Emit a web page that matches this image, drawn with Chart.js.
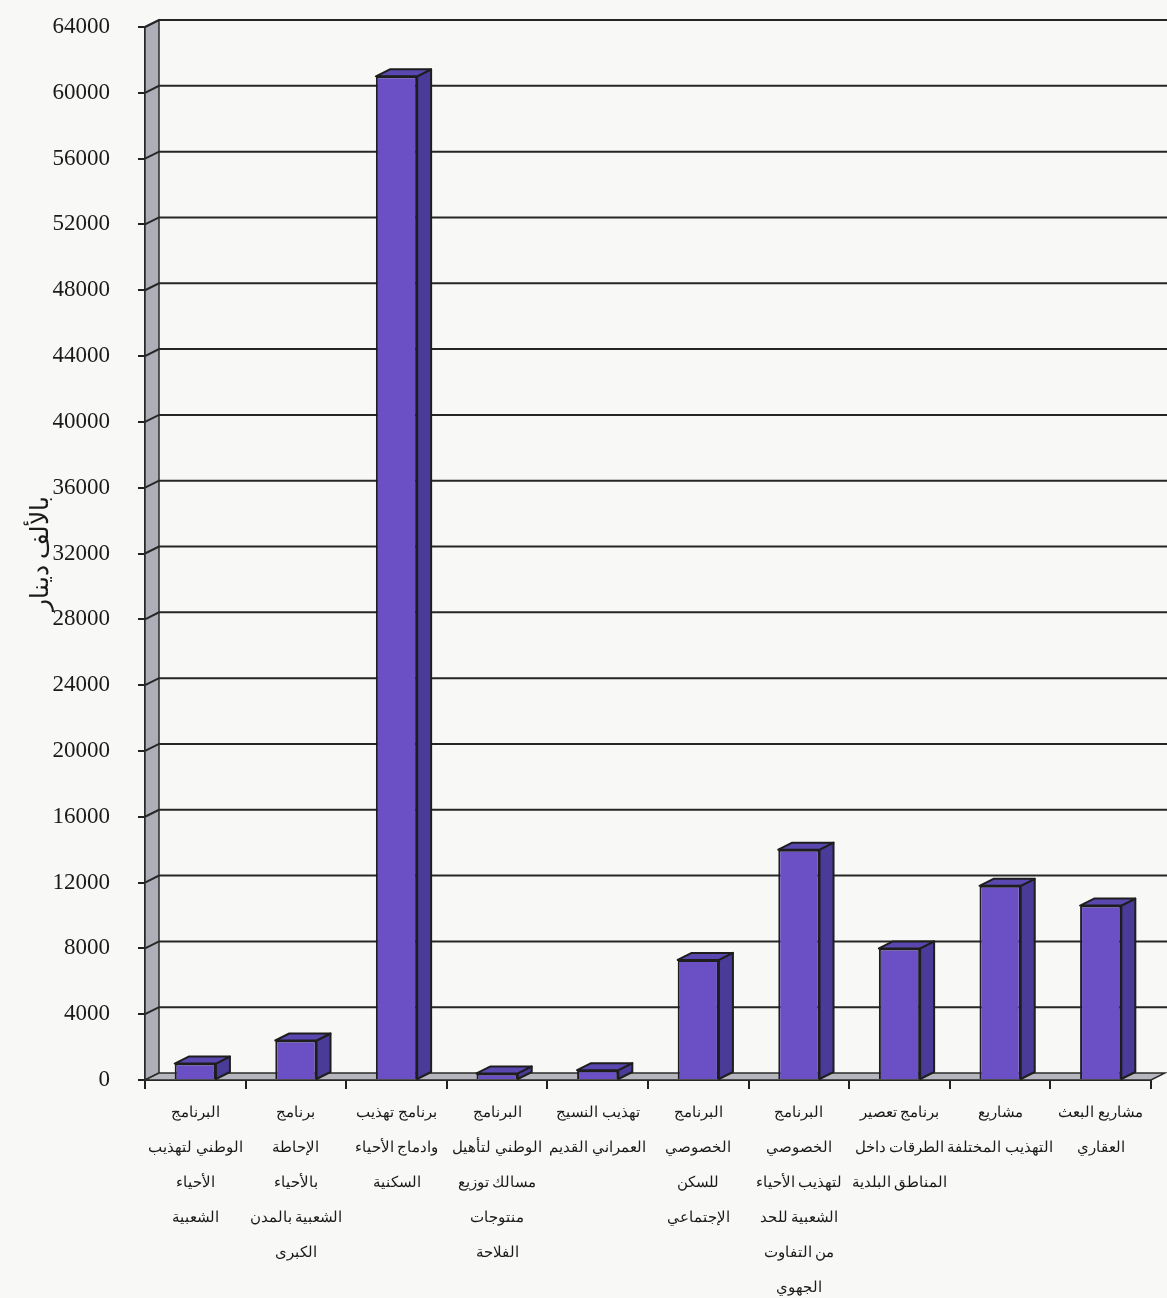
<!DOCTYPE html>
<html>
<head>
<meta charset="utf-8">
<title>chart</title>
<script src="https://cdn.jsdelivr.net/npm/chart.js@4/dist/chart.umd.min.js"></script>
<style>
  html, body { margin: 0; padding: 0; background: #f8f8f7; }
  #wrap { width: 1167px; height: 1298px; position: relative; }
</style>
</head>
<body>
<div id="wrap"><canvas id="chart"></canvas></div>
<script>
// ---- data ----
const categories = [
  ["البرنامج", "الوطني لتهذيب", "الأحياء", "الشعبية"],
  ["برنامج", "الإحاطة", "بالأحياء", "الشعبية بالمدن", "الكبرى"],
  ["برنامج تهذيب", "وادماج الأحياء", "السكنية"],
  ["البرنامج", "الوطني لتأهيل", "مسالك توزيع", "منتوجات", "الفلاحة"],
  ["تهذيب النسيج", "العمراني القديم"],
  ["البرنامج", "الخصوصي", "للسكن", "الإجتماعي"],
  ["البرنامج", "الخصوصي", "لتهذيب الأحياء", "الشعبية للحد", "من التفاوت", "الجهوي"],
  ["برنامج تعصير", "الطرقات داخل", "المناطق البلدية"],
  ["مشاريع", "التهذيب المختلفة"],
  ["مشاريع البعث", "العقاري"]
];
const values = [1000, 2400, 61000, 400, 600, 7300, 14000, 8000, 11800, 10600];
const yMin = 0;
const yMax = 64000;
const yStep = 4000;
const yTitle = "بالألف دينار";

// 3D depth of the box (px)
const DX = 14;
const DY = 7;

const box3d = {
  id: "box3d",
  beforeDatasetsDraw(chart) {
    const ctx = chart.ctx;
    const a = chart.chartArea;
    const ys = chart.scales.y;
    ctx.save();

    // left wall
    ctx.beginPath();
    ctx.moveTo(a.left, a.bottom);
    ctx.lineTo(a.left, a.top);
    ctx.lineTo(a.left + DX, a.top - DY);
    ctx.lineTo(a.left + DX, a.bottom - DY);
    ctx.closePath();
    ctx.fillStyle = "#aeaeb8";
    ctx.fill();
    ctx.strokeStyle = "#2b2b2b";
    ctx.lineWidth = 1.5;
    ctx.stroke();

    // floor
    ctx.beginPath();
    ctx.moveTo(a.left, a.bottom);
    ctx.lineTo(a.right, a.bottom);
    ctx.lineTo(a.right + DX, a.bottom - DY);
    ctx.lineTo(a.left + DX, a.bottom - DY);
    ctx.closePath();
    ctx.fillStyle = "#b6b6be";
    ctx.fill();
    ctx.stroke();

    // grid lines on the wall + back wall
    ctx.strokeStyle = "#262626";
    ctx.lineWidth = 2;
    ys.ticks.forEach(t => {
      if (t.value === yMin) return;
      const y = ys.getPixelForValue(t.value);
      ctx.beginPath();
      ctx.moveTo(a.left, y);
      ctx.lineTo(a.left + DX, y - DY);
      ctx.lineTo(chart.width, y - DY);
      ctx.stroke();
    });
    ctx.restore();
  },
  afterDatasetsDraw(chart) {
    const ctx = chart.ctx;
    const meta = chart.getDatasetMeta(0);
    ctx.save();
    ctx.strokeStyle = "#1e1e1e";
    ctx.lineWidth = 2;
    ctx.lineJoin = "round";
    meta.data.forEach(bar => {
      const p = bar.getProps(["x", "y", "width", "base"], true);
      const l = p.x - p.width / 2;
      const r = p.x + p.width / 2;
      // side face
      ctx.beginPath();
      ctx.moveTo(r, p.y);
      ctx.lineTo(r + DX, p.y - DY);
      ctx.lineTo(r + DX, p.base - DY);
      ctx.lineTo(r, p.base);
      ctx.closePath();
      ctx.fillStyle = "#4a3b98";
      ctx.fill();
      ctx.stroke();
      // top face
      ctx.beginPath();
      ctx.moveTo(l, p.y);
      ctx.lineTo(l + DX, p.y - DY);
      ctx.lineTo(r + DX, p.y - DY);
      ctx.lineTo(r, p.y);
      ctx.closePath();
      ctx.fillStyle = "#5a47b0";
      ctx.fill();
      ctx.stroke();
    });
    ctx.restore();
  }
};

new Chart(document.getElementById("chart"), {
  type: "bar",
  data: {
    labels: categories,
    datasets: [{
      data: values,
      backgroundColor: "#6a50c4",
      borderColor: "#1e1e1e",
      borderWidth: 2,
      categoryPercentage: 1,
      barPercentage: 0.41
    }]
  },
  options: {
    responsive: true,
    maintainAspectRatio: false,
    animation: false,
    layout: { padding: { top: 27, right: 16, bottom: 0, left: 0 } },
    plugins: {
      legend: { display: false },
      tooltip: { enabled: false }
    },
    scales: {
      x: {
        afterFit(scale) { scale.height = 218; },
        grid: { drawOnChartArea: false, drawTicks: true, tickLength: 9, color: "#222", lineWidth: 2, offset: true },
        border: { color: "#222", width: 2 },
        ticks: {
          autoSkip: false,
          maxRotation: 0,
          minRotation: 0,
          padding: 7,
          color: "#1a1a1a",
          font: { family: "'Liberation Serif', 'DejaVu Serif', serif", size: 15, lineHeight: 2.33 }
        }
      },
      y: {
        min: yMin,
        max: yMax,
        afterFit(scale) {
          scale.width = 145;
          scale.paddingTop = 10;
          scale.paddingBottom = 10;
        },
        grid: { drawOnChartArea: false, drawTicks: true, tickLength: 7, color: "#222", lineWidth: 2 },
        border: { color: "#222", width: 2 },
        ticks: {
          stepSize: yStep,
          padding: 28,
          color: "#1a1a1a",
          callback: v => String(v),
          font: { family: "'Liberation Serif', 'DejaVu Serif', serif", size: 23 }
        },
        title: {
          display: true,
          text: yTitle,
          color: "#1a1a1a",
          padding: { top: 26, bottom: 0 },
          font: { family: "'Liberation Serif', 'DejaVu Serif', serif", size: 25 }
        }
      }
    }
  },
  plugins: [box3d]
});
</script>
</body>
</html>
